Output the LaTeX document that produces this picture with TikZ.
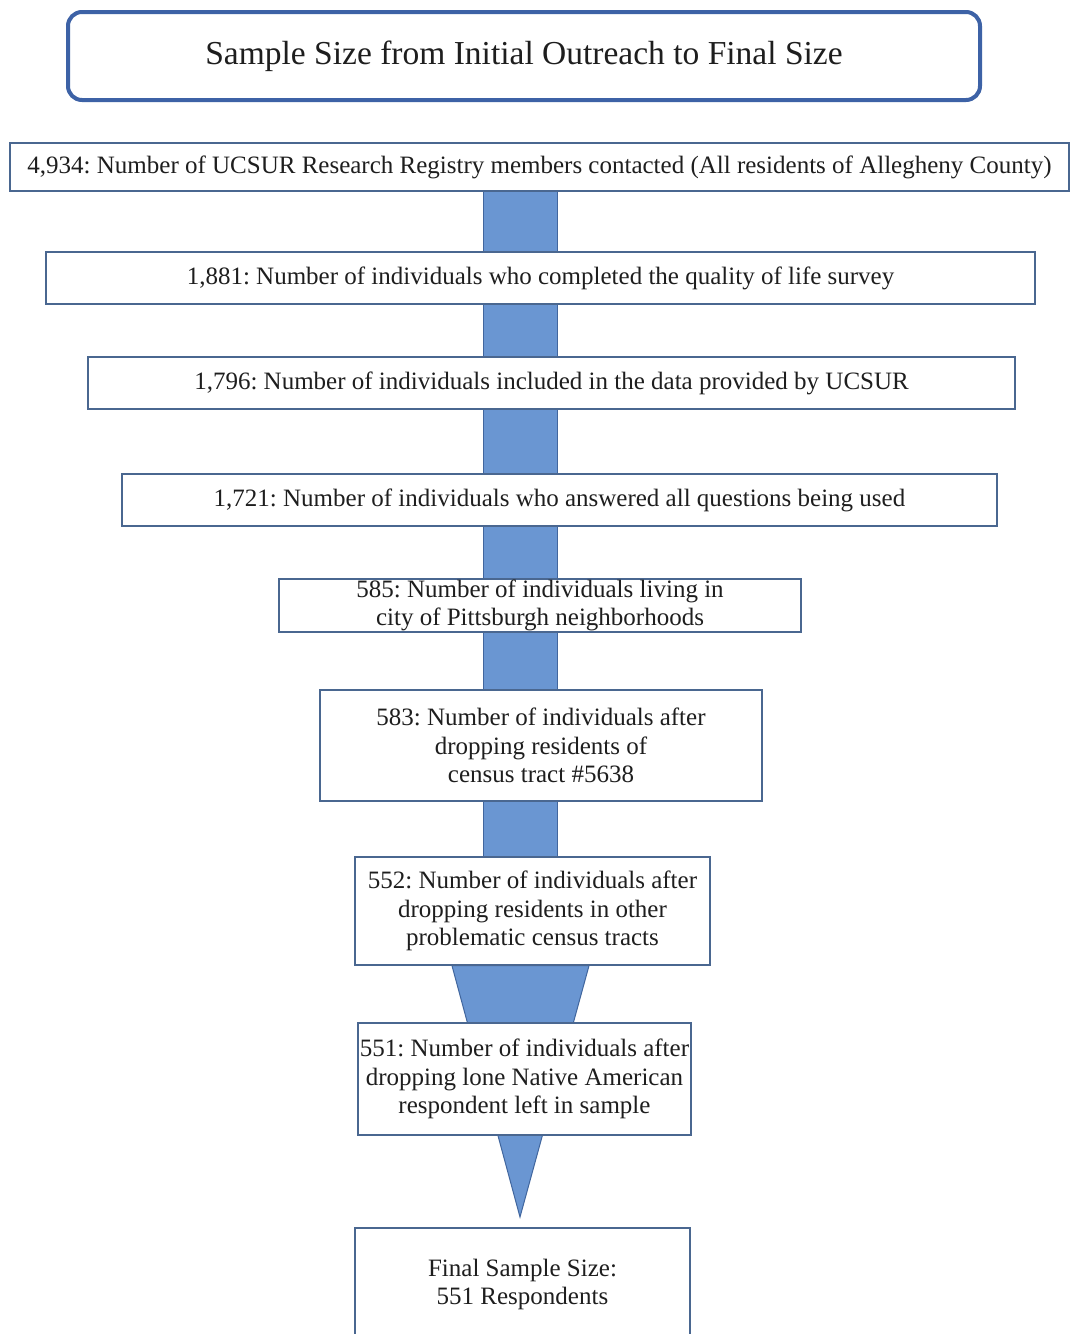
\documentclass[tikz,border=0pt]{standalone}
\usepackage{fontspec}
\setmainfont{Liberation Serif}
\usetikzlibrary{backgrounds}
\definecolor{barfill}{HTML}{6A96D2}
\definecolor{barline}{HTML}{41669E}
\definecolor{boxline}{HTML}{4A6790}
\definecolor{titleline}{HTML}{3D62A6}
\definecolor{txt}{HTML}{1E1E1E}
\tikzset{
  stepbox/.style={draw=boxline, line width=1.4pt, fill=white, inner sep=0pt, align=center, text=txt,
    font=\fontsize{25}{28.5}\selectfont\frenchspacing},
  titlebox/.style={draw=titleline, line width=4pt, rounded corners=14pt, fill=white, inner sep=0pt,
    align=center, text=txt, font=\fontsize{33.5}{38}\selectfont},
  flowbar/.style={fill=barfill, draw=barline, line width=1pt}
}
\begin{document}
\begin{tikzpicture}[x=1pt,y=-1pt]
\useasboundingbox (0,0) rectangle (1071,1334);
\clip (0,0) rectangle (1071,1334);

\node[titlebox, minimum width=912pt, minimum height=88pt] (title) at (524,56) {Sample Size from Initial Outreach to Final Size};

\node[stepbox, minimum width=1059pt, minimum height=48pt] (b1) at (539.5,167) {4,934: Number of UCSUR Research Registry members contacted (All residents of Allegheny County)};
\node[stepbox, minimum width=989pt, minimum height=52pt] (b2) at (540.5,278) {1,881: Number of individuals who completed the quality of life survey};
\node[stepbox, minimum width=927pt, minimum height=52pt] (b3) at (551.5,383) {1,796: Number of individuals included in the data provided by UCSUR};
\node[stepbox, minimum width=875pt, minimum height=52pt] (b4) at (559.5,500) {1,721: Number of individuals who answered all questions being used};
\node[stepbox, minimum width=522pt, minimum height=53pt] (b5) at (540,605.5) {585: Number of individuals living in\\city of Pittsburgh neighborhoods};
\node[stepbox, minimum width=442pt, minimum height=111pt] (b6) at (541,745.5) {583: Number of individuals after\\dropping residents of\\census tract \#5638};
\node[stepbox, minimum width=355pt, minimum height=108pt] (b7) at (532.5,911) {552: Number of individuals after\\dropping residents in other\\problematic census tracts};
\node[stepbox, minimum width=333pt, minimum height=112pt] (b8) at (524.5,1079) {551: Number of individuals after\\dropping lone Native American\\respondent left in sample};
\node[stepbox, minimum width=335pt, minimum height=113pt] (b9) at (522.5,1284.5) {Final Sample Size:\\551 Respondents};

\coordinate (barL) at (483,0);
\coordinate (barR) at (557,0);
\coordinate (headL) at (452,0);
\coordinate (headR) at (589,0);
\coordinate (tip) at (520,1217);

\begin{scope}[on background layer]
\fill[white] (0,0) rectangle (1071,1334);
\draw[flowbar] (b1.south -| barL) rectangle (b7.south -| barR);
\draw[flowbar] (b7.south -| headL) -- (b7.south -| headR) -- (tip) -- cycle;
\end{scope}
\end{tikzpicture}
\end{document}
